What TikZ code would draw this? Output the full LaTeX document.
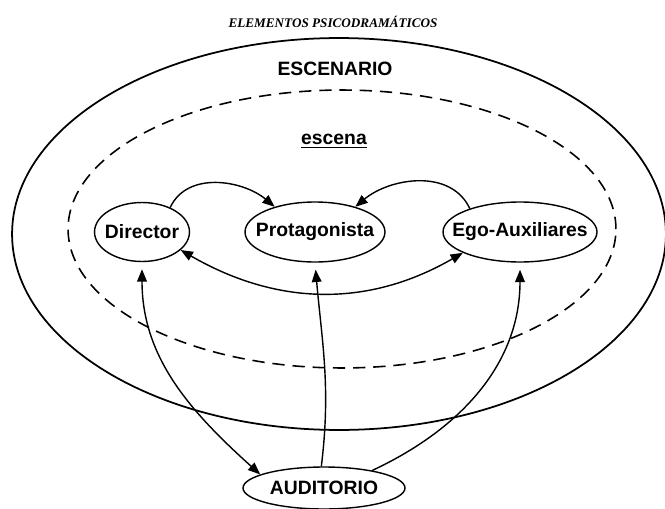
\documentclass[tikz,border=0pt]{standalone}
\usepackage{fontspec}
\setmainfont{Liberation Sans}
\newfontfamily\titlefont{Liberation Serif}
\usetikzlibrary{shapes.geometric,arrows.meta}

\begin{document}
\begin{tikzpicture}[x=0.02cm, y=0.02cm,
    oval/.style={ellipse, draw, line width=0.8pt, inner sep=0pt},
    lbl/.style={font=\fontsize{11}{13}\selectfont\bfseries},
    arr/.style={line width=0.8pt, -{Triangle[length=7pt,width=5.5pt]}},
    darr/.style={line width=0.8pt, {Triangle[length=7pt,width=5.5pt]}-{Triangle[length=7pt,width=5.5pt]}}]
    \useasboundingbox (0,0) rectangle (665,508);
    % === Titolo ===
    \node[font=\titlefont\fontsize{7.5}{9}\selectfont\bfseries\itshape] (titulo) at (333,486) {ELEMENTOS PSICODRAMÁTICOS};

    % === ESCENARIO ===
    \draw[line width=1pt] (339,274) ellipse [x radius=6.54cm, y radius=3.92cm];
    \node[lbl] (escenario) at (335,439) {ESCENARIO};

    % === escena ===
    \draw[line width=0.9pt, dash pattern=on 7pt off 4.5pt] (342,279) ellipse [x radius=5.48cm, y radius=2.78cm];
    \node[lbl] (escena) at (334,367) {\underline{escena}};

    % Elementos
    \node[oval, lbl, minimum width=1.9cm, minimum height=1.18cm] (dir) at (142,276) {\makebox[0pt]{Director}};
    \node[oval, lbl, minimum width=2.8cm, minimum height=1.2cm] (prot) at (315,276) {\makebox[0pt]{Protagonista}};
    \node[oval, lbl, minimum width=3.08cm, minimum height=1.2cm] (ego) at (520,276) {\makebox[0pt]{Ego-Auxiliares}};
    \node[oval, lbl, minimum width=3.24cm, minimum height=0.84cm] (aud) at (324,20) {\makebox[0pt]{AUDITORIO}};

    % Relaciones en escena
    \draw[arr] (dir.41) to[out=65,in=140] (prot.148);
    \draw[arr] (ego.155) to[out=115,in=40] (prot.32);
    \draw[darr] (dir.-25) to[out=-30,in=-150] (ego.-160);

    % Auditorio
    \draw[darr, shorten <=4pt] (dir.-90) to[out=-90,in=138] (aud.168);
    \draw[arr, shorten >=4pt] (aud.97) to[out=83,in=-85] (prot.-90);
    \draw[arr, shorten >=4pt] (aud.20) to[out=25,in=-90] (ego.-90);
\end{tikzpicture}
\end{document}
